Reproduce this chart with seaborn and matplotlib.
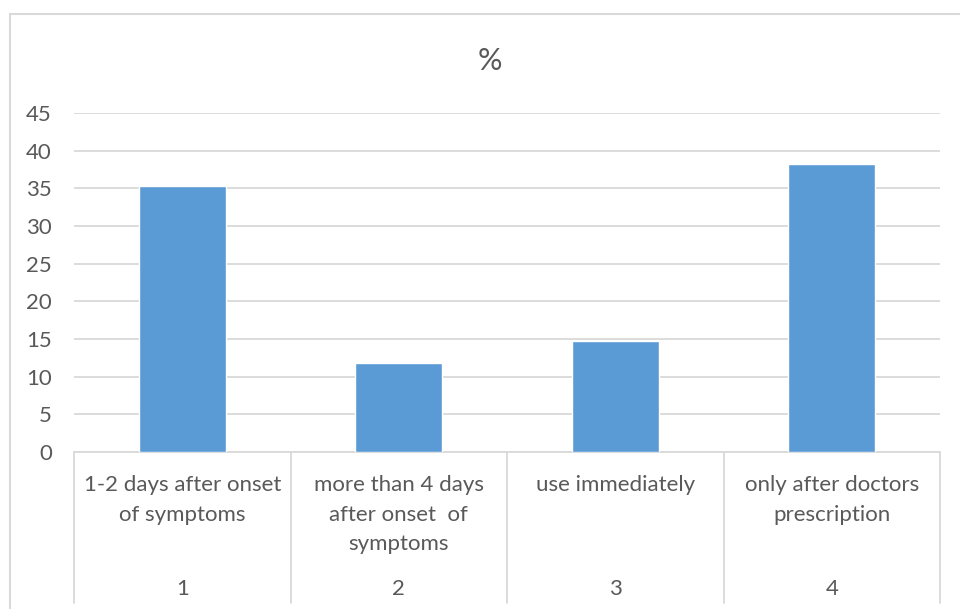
import matplotlib
matplotlib.use("Agg")
import matplotlib.pyplot as plt
import seaborn as sns
import pandas as pd
from matplotlib.patches import Rectangle
from matplotlib.lines import Line2D

# Data
codes = ["1", "2", "3", "4"]
labels = [
    "1-2 days after onset\nof symptoms",
    "more than 4 days\nafter onset  of\nsymptoms",
    "use immediately",
    "only after doctors\nprescription",
]
percent = [35.3, 11.8, 14.7, 38.2]
y_ticks = [0, 5, 10, 15, 20, 25, 30, 35, 40, 45]

df = pd.DataFrame({"code": codes, "percent": percent})

sns.set_theme(style="white")
plt.rcParams["font.family"] = ["Lato", "DejaVu Sans"]

TEXT = "#595959"
GRID = "#D9D9D9"
BAR = "#5B9BD5"
FS = 16

W, H = 960, 609
fig = plt.figure(figsize=(W / 100, H / 100), dpi=100)

# plot area in pixel coordinates
left, right, top, bottom = 74, 940, 113, 452
ax = fig.add_axes([left / W, 1 - bottom / H, (right - left) / W, (bottom - top) / H])

sns.barplot(data=df, x="code", y="percent", color=BAR, width=0.4,
            saturation=1, ax=ax, zorder=3)

ax.set_ylim(0, 45)
ax.set_xlim(-0.5, len(codes) - 0.5)
ax.set_yticks(y_ticks)
ax.set_yticklabels([str(t) for t in y_ticks], color=TEXT, fontsize=FS)
ax.tick_params(axis="y", length=0, pad=16)
ax.set_xticks([])
ax.set_xlabel("")
ax.set_ylabel("")
for s in ["top", "right", "left"]:
    ax.spines[s].set_visible(False)
ax.spines["bottom"].set_color(GRID)
ax.spines["bottom"].set_linewidth(1.3)
ax.yaxis.grid(True, color=GRID, linewidth=1.3, zorder=0)
ax.set_axisbelow(True)

# two-level category axis: label text, code number and separators
trans = ax.get_xaxis_transform()
px = 1.0 / (bottom - top)
sep_bottom = -(603 - bottom) * px
for i in range(len(codes) + 1):
    ax.add_line(Line2D([i - 0.5, i - 0.5], [0, sep_bottom], transform=trans,
                       color=GRID, linewidth=1.3, clip_on=False))
for i, (lab, code) in enumerate(zip(labels, codes)):
    ax.text(i, -(475 - bottom) * px, lab, transform=trans, ha="center",
            va="top", color=TEXT, fontsize=FS, linespacing=1.6)
    ax.text(i, -(589 - bottom) * px, code, transform=trans, ha="center",
            va="center", color=TEXT, fontsize=FS)

# title
fig.text(490 / W, 1 - 61 / H, "%", ha="center", va="center",
         color=TEXT, fontsize=22)

# chart frame
fig.patches.append(Rectangle((10 / W, -0.05), 1.2, 1 - 14 / H + 0.05,
                             transform=fig.transFigure, fill=False,
                             edgecolor=GRID, linewidth=1.5))

fig.savefig("out.png", dpi=100, facecolor="white")
